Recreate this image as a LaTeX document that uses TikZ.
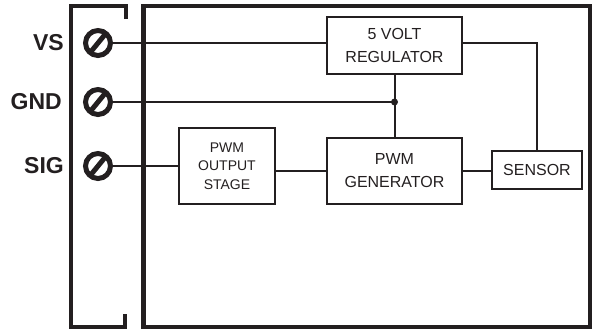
\documentclass[tikz,border=0pt]{standalone}
\usepackage{fontspec}
\setmainfont{Liberation Sans}
\usetikzlibrary{calc}
\definecolor{ink}{HTML}{231F20}
\tikzset{
  frame/.style={line width=4.5pt, draw=ink},
  wire/.style={line width=2pt, draw=ink},
  blockbox/.style={draw=ink, line width=2.5pt, rectangle, align=center, inner sep=0pt,
     font=\fontsize{16}{23}\selectfont, text=ink},
  smallbox/.style={blockbox, font=\fontsize{14}{18.5}\selectfont},
  terminal/.style={circle, draw=ink, line width=5pt, minimum size=25pt, inner sep=0pt,
     path picture={\draw[ink, line width=5pt] ([xshift=-9pt,yshift=-11pt]path picture bounding box.center) -- ([xshift=9pt,yshift=11pt]path picture bounding box.center);}},
  pinlabel/.style={anchor=east, inner sep=0pt, text=ink, font=\bfseries\fontsize{23}{26}\selectfont},
  junction/.style={circle, fill=ink, minimum size=7pt, inner sep=0pt}
}
\begin{document}
\begin{tikzpicture}[x=1pt,y=-1pt]
\useasboundingbox (0,0) rectangle (595,330);
% connector bracket and housing
\draw[frame] (126,19) -- (126,6) -- (71,6) -- (71,327) -- (125,327) -- (125,314);
\draw[frame] (143.5,6) rectangle (590,327);
% terminals
\node[terminal] (vs) at (98,43) {};
\node[terminal] (gnd) at (98,102) {};
\node[terminal] (sig) at (98,166) {};
\node[pinlabel] (vslab) at (64,43) {VS};
\node[pinlabel] (gndlab) at (62,102) {GND};
\node[pinlabel] (siglab) at (64,166) {SIG};
% blocks
\node[blockbox, minimum width=135pt, minimum height=57pt] (reg) at (394.5,45.5) {5 VOLT\\REGULATOR};
\node[blockbox, minimum width=135pt, minimum height=66pt] (gen) at (394.5,171) {PWM\\GENERATOR};
\node[smallbox, minimum width=96pt, minimum height=76pt] (out) at (227,166) {PWM\\OUTPUT\\STAGE};
\node[blockbox, minimum width=90pt, minimum height=38pt] (sensor) at (537,170) {SENSOR};
% wires
\draw[wire] (vs.east) -- (vs.east -| reg.west);
\draw[wire] (reg.east |- vs) -- (sensor.north |- vs) -- (sensor.north);
\coordinate (j) at (reg.south |- gnd);
\draw[wire] (gnd.east) -- (j);
\draw[wire] (reg.south) -- (gen.north);
\node[junction] (jdot) at (j) {};
\draw[wire] (sig.east) -- (sig.east -| out.west);
\draw[wire] (gen.west) -- (gen.west -| out.east);
\draw[wire] (gen.east) -- (gen.east -| sensor.west);
\end{tikzpicture}
\end{document}
